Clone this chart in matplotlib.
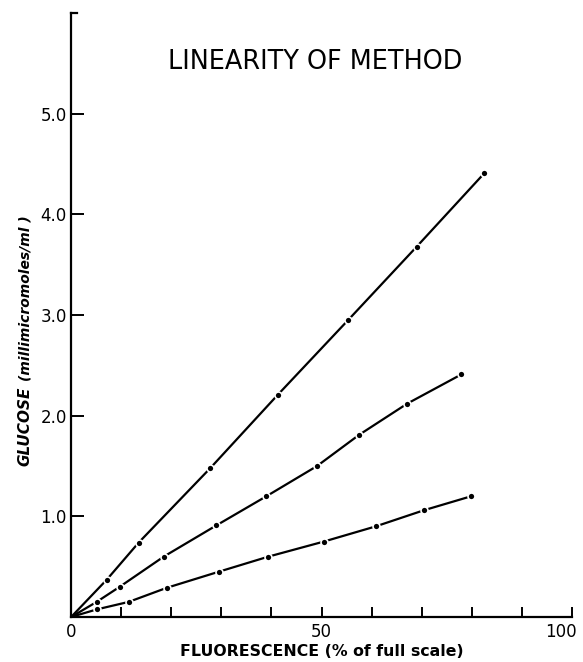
import numpy as np
import matplotlib
matplotlib.use("Agg")
import matplotlib.pyplot as plt
from matplotlib.transforms import ScaledTranslation

# fluorescence (% of full scale) and glucose (millimicromoles/ml)
top_x = [7.1, 13.5, 27.8, 41.3, 55.3, 69.0, 82.5]
top_y = [0.37, 0.74, 1.48, 2.21, 2.95, 3.68, 4.41]

mid_x = [5.1, 9.7, 18.5, 29.0, 39.0, 49.1, 57.5, 67.1, 77.9]
mid_y = [0.15, 0.30, 0.60, 0.91, 1.20, 1.50, 1.81, 2.12, 2.41]

low_x = [5.1, 11.5, 19.1, 29.5, 39.4, 50.5, 60.8, 70.4, 79.9]
low_y = [0.075, 0.15, 0.29, 0.45, 0.60, 0.75, 0.90, 1.06, 1.20]

x_major = [0, 50, 100]
x_minor = [10, 20, 30, 40, 60, 70, 80, 90]
y_ticks = [1.0, 2.0, 3.0, 4.0, 5.0]

fig = plt.figure(figsize=(5.83, 6.62), dpi=100)
ax = fig.add_axes([0.122, 0.068, 0.859, 0.912])

for xs, ys in [(top_x, top_y), (mid_x, mid_y), (low_x, low_y)]:
    ax.plot([0] + xs, [0] + ys, color="black", lw=1.6, solid_capstyle="butt")
    ax.plot(xs, ys, "o", color="black", ms=5, mec="white", mew=1.2)

ax.set_xlim(0, 100)
ax.set_ylim(0, 6.0)

ax.spines["top"].set_visible(False)
ax.spines["right"].set_visible(False)
for s in ["left", "bottom"]:
    ax.spines[s].set_linewidth(1.6)

ax.set_xticks(x_major)
ax.set_xticklabels([str(v) for v in x_major])
ax.set_xticks(x_minor, minor=True)
ax.set_yticks(y_ticks)
ax.set_yticklabels([f"{v:.1f}" for v in y_ticks])
ax.tick_params(axis="both", which="both", direction="in", width=1.4, labelsize=12)
ax.tick_params(axis="x", which="both", length=7, pad=4)
ax.tick_params(axis="y", length=9, pad=3)
# "100" sits a little left of its tick so it stays inside the page
last = ax.get_xticklabels()[-1]
last.set_transform(last.get_transform() + ScaledTranslation(-8 / 72, 0, fig.dpi_scale_trans))
# small hook at the top of the y axis
ax.plot([0, 1.2], [6.0, 6.0], color="black", lw=1.6, clip_on=False)

fig.text(0.54, 0.906, "LINEARITY OF METHOD", ha="center", va="center", fontsize=18.4)
fig.text(0.552, 0.016, "FLUORESCENCE (% of full scale)", ha="center", va="center",
         fontsize=11.3, fontweight="bold")
fig.text(0.043, 0.356, "GLUCOSE", rotation=90, ha="center", va="center",
         fontsize=11, fontweight="bold", style="italic")
fig.text(0.043, 0.55, "(millimicromoles/ml )", rotation=90, ha="center", va="center",
         fontsize=10, fontweight="bold", style="italic")

fig.savefig("out.png", dpi=100)
